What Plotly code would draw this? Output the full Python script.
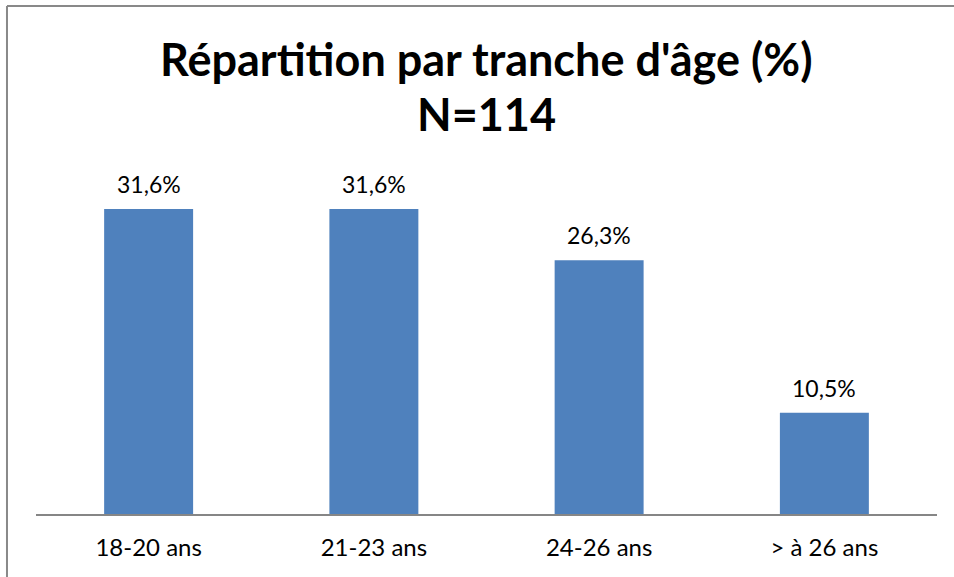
import plotly.graph_objects as go

categories = ["18-20 ans", "21-23 ans", "24-26 ans", "> à 26 ans"]
values = [31.6, 31.6, 26.3, 10.5]
labels = ["31,6%", "31,6%", "26,3%", "10,5%"]
title_line1 = "Répartition par tranche d'âge (%)"
title_line2 = "N=114"

bar = go.Bar(
    x=categories,
    y=values,
    marker=dict(color="#4F81BD", line=dict(width=0)),
    hoverinfo="skip",
)

annotations = []
for c, v, t in zip(categories, values, labels):
    annotations.append(dict(
        x=c, y=v, text=t, showarrow=False,
        yanchor="bottom", yshift=9,
        font=dict(family="Lato", size=23, color="black"),
    ))

annotations.append(dict(
    x=0.5, y=1.286, xref="paper", yref="paper", text="<b>" + title_line1 + "</b>",
    showarrow=False, yanchor="middle",
    font=dict(family="Lato", size=45, color="black"),
))
annotations.append(dict(
    x=0.5, y=1.1295, xref="paper", yref="paper", text="<b>" + title_line2 + "</b>",
    showarrow=False, yanchor="middle",
    font=dict(family="Lato", size=45, color="black"),
))

layout = go.Layout(
    width=954,
    height=577,
    margin=dict(l=36, r=17, t=160, b=63, pad=0),
    paper_bgcolor="white",
    plot_bgcolor="white",
    bargap=0.605,
    showlegend=False,
    xaxis=dict(
        showline=True, linecolor="#868686", linewidth=2,
        showgrid=False, zeroline=False, ticks="",
        ticklabelstandoff=11,
        tickfont=dict(family="Lato", size=24, color="black"),
    ),
    yaxis=dict(
        range=[0, 36.68], visible=False, showgrid=False, zeroline=False,
    ),
    annotations=annotations,
    shapes=[
        # chart frame: only top and left edges are visible in the picture
        dict(type="line", xref="paper", yref="paper",
             x0=-0.0322, x1=1.05, y0=1.435, y1=1.435,
             line=dict(color="#898989", width=2)),
        dict(type="line", xref="paper", yref="paper",
             x0=-0.0322, x1=-0.0322, y0=1.435, y1=-0.3,
             line=dict(color="#898989", width=2)),
    ],
)

fig = go.Figure(data=[bar], layout=layout)
fig.write_html(
    "out.html",
    config=dict(displayModeBar=False),
    post_script="document.body.style.margin='0';document.body.style.overflow='hidden';",
)
